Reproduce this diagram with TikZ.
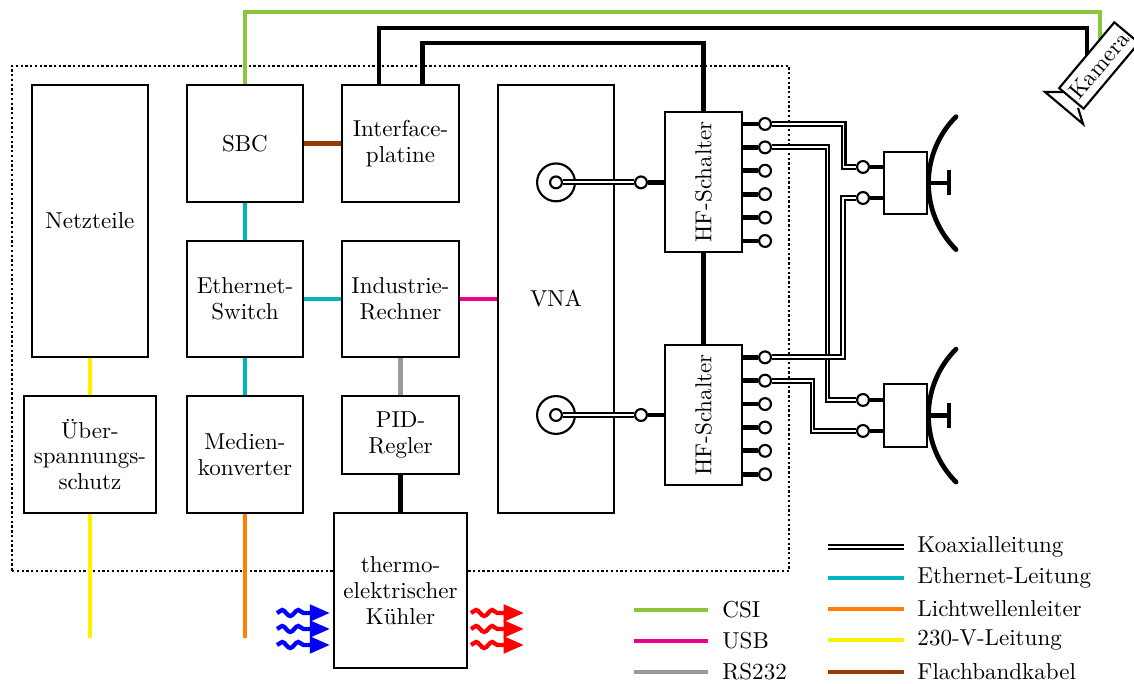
\documentclass[tikz,border=0pt]{standalone}
\usepackage{tikz}
\usetikzlibrary{arrows.meta,backgrounds,decorations.pathmorphing}
\definecolor{csigreen}{HTML}{8CC63F}
\definecolor{usbpink}{HTML}{EC008C}
\definecolor{rsgray}{HTML}{999999}
\definecolor{ethcyan}{HTML}{00B5BD}
\definecolor{lwlorange}{HTML}{FF8000}
\definecolor{netzyellow}{HTML}{FFF000}
\definecolor{flachbrown}{HTML}{963C00}
\tikzset{
  blk/.style={draw, line width=.9pt, fill=white, align=center, inner sep=1pt, minimum width=1.72cm, minimum height=1.72cm},
  port/.style={draw, line width=.9pt, circle, fill=white, inner sep=0pt, minimum size=1.75mm},
  stub/.style={line width=2pt},
  koax/.style={draw=black, line width=.85pt, double=white, double distance=.8pt},
  csi/.style={line width=1.8pt, color=csigreen},
  usb/.style={line width=1.8pt, color=usbpink},
  rs/.style={line width=1.8pt, color=rsgray},
  eth/.style={line width=1.8pt, color=ethcyan},
  lwl/.style={line width=1.8pt, color=lwlorange},
  netz/.style={line width=1.8pt, color=netzyellow},
  flach/.style={line width=1.8pt, color=flachbrown},
  dish/.style={line width=2pt, line cap=round},
  kalt/.style={line width=1.8pt, color=blue, decorate, decoration={snake, amplitude=.45mm, segment length=2.4mm, post length=3mm}, -{Triangle[length=3mm,width=2.4mm]}},
  warm/.style={kalt, color=red},
  lgd/.style={anchor=west, inner sep=0pt},
}
\begin{document}
\begin{tikzpicture}[font=\fontsize{9.7}{10.8}\selectfont]
  \useasboundingbox (0,0) rectangle (16.775,10.118);
  % blocks
  \node[blk, minimum height=4.02cm] (netz) at (1.331,6.849) {Netzteile};
  \node[blk, minimum width=1.95cm] (ueber) at (1.331,3.395) {Über-\\spannungs-\\schutz};
  \node[blk] (sbc) at (3.624,7.996) {SBC};
  \node[blk] (iface) at (5.925,7.996) {Interface-\\platine};
  \node[blk] (switch) at (3.624,5.695) {Ethernet-\\Switch};
  \node[blk] (rechner) at (5.925,5.695) {Industrie-\\Rechner};
  \node[blk] (medien) at (3.624,3.395) {Medien-\\konverter};
  \node[blk, minimum height=1.154cm] (pid) at (5.925,3.683) {PID-\\Regler};
  \node[blk, minimum width=1.97cm, minimum height=2.29cm] (kuehler) at (5.925,1.383) {thermo-\\elektrischer\\Kühler};
  \node[blk, minimum height=6.33cm] (vna) at (8.225,5.695) {VNA};
  \node[blk, minimum width=1.14cm, minimum height=2.07cm] (hfa) at (10.407,7.426) {\rotatebox{90}{HF-Schalter}};
  \node[blk, minimum width=1.14cm, minimum height=2.07cm] (hfb) at (10.407,3.979) {\rotatebox{90}{HF-Schalter}};
  \node[blk, minimum width=.636cm, minimum height=.925cm] (anta) at (13.395,7.411) {};
  \node[blk, minimum width=.636cm, minimum height=.925cm] (antb) at (13.395,3.972) {};
  \node[blk, minimum width=1.27cm, minimum height=.473cm, rotate=50] (kamera) at (16.257,9.149) {Kamera};

  \coordinate (netzend) at (1.331,.68);
  \coordinate (lwlend) at (3.624,.68);
  \coordinate (csiknick) at (16.272,9.941);
  \coordinate (kama) at (16.08,9.704);
  \coordinate (hfknick) at (10.407,9.482);

  \begin{scope}[on background layer]
    \node[draw, line width=1pt, dash pattern=on 1pt off 1pt, minimum width=11.494cm, minimum height=7.47cm] (gehaeuse) at (5.925,5.407) {};
    \draw[csi] (sbc.north) |- (csiknick) -- (csiknick |- kamera.center);
    \draw[stub] ([xshift=-3.2mm]iface.north) |- (kama) -- (kama |- kamera.center);
    \draw[line width=.9pt] (15.725,8.757) -- (15.459,8.757) -- (16.021,8.284) -- (15.947,8.521);
  \end{scope}
  \draw[stub] ([xshift=3.2mm]iface.north) |- (hfknick) -- (hfa.north);
  \draw[stub] (hfa.south) -- (hfb.north);
  \draw[flach] (sbc) -- (iface);
  \draw[eth] (sbc) -- (switch);
  \draw[eth] (switch) -- (rechner);
  \draw[eth] (switch) -- (medien);
  \draw[usb] (rechner) -- (rechner -| vna.west);
  \draw[rs] (rechner) -- (pid);
  \draw[stub] (pid) -- (pid |- kuehler.north);
  \draw[netz] (netz) -- (ueber);
  \draw[netz] (ueber) -- (netzend);
  \draw[lwl] (medien) -- (lwlend);

  % ports of the switches
  \node[port] (pa1) at (11.317,8.284) {};
  \node[port] (pa2) at (11.317,7.938) {};
  \node[port] (pa3) at (11.317,7.592) {};
  \node[port] (pa4) at (11.317,7.246) {};
  \node[port] (pa5) at (11.317,6.900) {};
  \node[port] (pa6) at (11.317,6.553) {};
  \node[port] (pb1) at (11.317,4.832) {};
  \node[port] (pb2) at (11.317,4.487) {};
  \node[port] (pb3) at (11.317,4.141) {};
  \node[port] (pb4) at (11.317,3.794) {};
  \node[port] (pb5) at (11.317,3.449) {};
  \node[port] (pb6) at (11.317,3.102) {};
  \draw[stub] (hfa.east |- pa1) -- (pa1);
  \draw[stub] (hfa.east |- pa2) -- (pa2);
  \draw[stub] (hfa.east |- pa3) -- (pa3);
  \draw[stub] (hfa.east |- pa4) -- (pa4);
  \draw[stub] (hfa.east |- pa5) -- (pa5);
  \draw[stub] (hfa.east |- pa6) -- (pa6);
  \draw[stub] (hfb.east |- pb1) -- (pb1);
  \draw[stub] (hfb.east |- pb2) -- (pb2);
  \draw[stub] (hfb.east |- pb3) -- (pb3);
  \draw[stub] (hfb.east |- pb4) -- (pb4);
  \draw[stub] (hfb.east |- pb5) -- (pb5);
  \draw[stub] (hfb.east |- pb6) -- (pb6);

  % VNA side
  \node[port, minimum size=5.6mm] (buchsea) at (8.225,7.42) {};
  \node[port, minimum size=5.6mm] (buchseb) at (8.225,3.979) {};
  \node[port] (ia) at (8.225,7.42) {};
  \node[port] (ib) at (8.225,3.979) {};
  \node[port] (pla) at (9.482,7.42) {};
  \node[port] (plb) at (9.482,3.979) {};
  \draw[koax] (ia) -- (pla);
  \draw[koax] (ib) -- (plb);
  \draw[stub] (pla) -- (pla -| hfa.west);
  \draw[stub] (plb) -- (plb -| hfb.west);

  % antennas
  \node[port] (qa1) at (12.766,7.648) {};
  \node[port] (qa2) at (12.766,7.189) {};
  \node[port] (qb1) at (12.766,4.201) {};
  \node[port] (qb2) at (12.766,3.743) {};
  \draw[stub] (qa1) -- (qa1 -| anta.west);
  \draw[stub] (qa2) -- (qa2 -| anta.west);
  \draw[stub] (qb1) -- (qb1 -| antb.west);
  \draw[stub] (qb2) -- (qb2 -| antb.west);
  \draw[koax] (pa2) -- (12.241,7.938) |- (qb1);
  \draw[koax] (pa1) -- (12.478,8.284) |- (qa1);
  \draw[koax] (pb1) -- (12.470,4.832) |- (qa2);
  \draw[koax] (pb2) -- (12.019,4.487) |- (qb2);
  \draw[dish] (14.142,8.392) arc[start angle=135, end angle=225, radius=1.39];
  \draw[dish] (14.142,4.953) arc[start angle=135, end angle=225, radius=1.39];
  \draw[stub] (anta.east) -- ++(.31,0) ++(0,.185) -- ++(0,-.37);
  \draw[stub] (antb.east) -- ++(.31,0) ++(0,.185) -- ++(0,-.37);

  % heat flow
  \draw[kalt] (4.098,1.050) -- (4.882,1.050);
  \draw[kalt] (4.098,.814) -- (4.882,.814);
  \draw[kalt] (4.098,.577) -- (4.882,.577);
  \draw[warm] (6.967,1.050) -- (7.751,1.050);
  \draw[warm] (6.967,.814) -- (7.751,.814);
  \draw[warm] (6.967,.577) -- (7.751,.577);

  % legend
  \node[lgd] (lcsi) at (10.68,1.095) {CSI};
  \node[lgd] (lusb) at (10.68,.636) {USB};
  \node[lgd] (lrs) at (10.68,.178) {RS232};
  \node[lgd] (lkoax) at (13.565,2.027) {Koaxialleitung};
  \node[lgd] (leth) at (13.565,1.568) {Ethernet-Leitung};
  \node[lgd] (llwl) at (13.565,1.109) {Lichtwellenleiter};
  \node[lgd] (lnetz) at (13.565,.651) {230-V-Leitung};
  \node[lgd] (lflach) at (13.565,.178) {Flachbandkabel};
  \draw[csi] ([xshift=-2.1mm]lcsi.west) -- ++(-1.095,0);
  \draw[usb] ([xshift=-2.1mm]lusb.west) -- ++(-1.095,0);
  \draw[rs] ([xshift=-2.1mm]lrs.west) -- ++(-1.095,0);
  \draw[koax] ([xshift=-1.9mm]lkoax.west) -- ++(-1.124,0);
  \draw[eth] ([xshift=-1.9mm]leth.west) -- ++(-1.124,0);
  \draw[lwl] ([xshift=-1.9mm]llwl.west) -- ++(-1.124,0);
  \draw[netz] ([xshift=-1.9mm]lnetz.west) -- ++(-1.124,0);
  \draw[flach] ([xshift=-1.9mm]lflach.west) -- ++(-1.124,0);
\end{tikzpicture}
\end{document}
